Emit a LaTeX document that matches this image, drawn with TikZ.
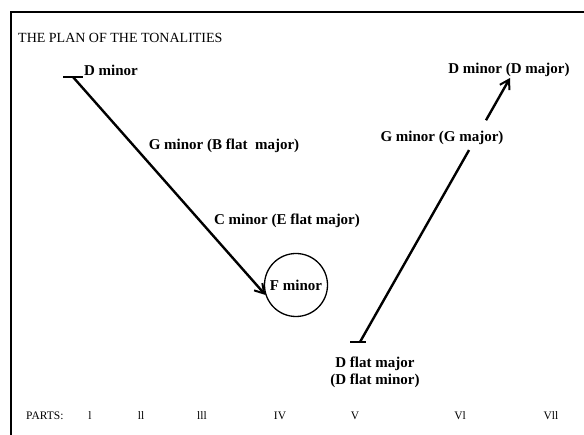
\documentclass[tikz,border=0pt]{standalone}
\usepackage{fontspec}
\setmainfont{Liberation Serif}
\usetikzlibrary{arrows.meta,calc}

\begin{document}
\begin{tikzpicture}[x=1pt, y=-1pt,
  etiq/.style={font=\fontsize{15}{17}\selectfont\bfseries, inner sep=0pt},
  texte/.style={font=\fontsize{11.5}{14}\selectfont, inner sep=0pt},
  trait/.style={line width=2.4pt},
  fleche/.style={trait, -{Straight Barb[length=9pt,width=11pt,line width=2pt]}}]
\useasboundingbox (0,0) rectangle (584,435);
\draw[line width=2.6pt] (11,435) -- (11,12) -- (584,12);
\node[texte, font=\fontsize{14}{16}\selectfont, anchor=west] (titre) at (18,38) {THE PLAN OF THE TONALITIES};
% tonalites
\node[etiq] (dmin) at (111,70) {D minor};
\node[etiq] (gmin) at (224,146) {G minor (B flat\ \ major)};
\node[etiq] (cmin) at (287,221) {C minor (E flat major)};
\node[etiq, draw, circle, line width=1.3pt, minimum size=63pt] (fmin) at (296,285) {F minor};
\node[etiq, align=center] (dflat) at (375,372) {D flat major\\(D flat minor)};
\node[etiq] (gmaj) at (442,138) {G minor (G major)};
\node[etiq] (dmaj) at (509,70) {D minor (D major)};
% traits
\coordinate (debut1) at (73,77);
\coordinate (barre1g) at (63,77);
\coordinate (barre1d) at (83,77);
\coordinate (debut2) at (360,342);
\coordinate (barre2g) at (350,342);
\coordinate (barre2d) at (366,342);
\coordinate (fin2) at (510,78);
\coordinate (coupe2a) at ($(debut2)!0.727!(fin2)$);
\coordinate (coupe2b) at ($(debut2)!0.84!(fin2)$);
\draw[trait] (barre1g) -- (barre1d);
\draw[fleche] (debut1) -- (fmin.198);
\draw[trait] (barre2g) -- (barre2d);
\draw[trait] (debut2) -- (coupe2a);
\draw[fleche] (coupe2b) -- (fin2);
% parties
\node[texte, anchor=west] (parts) at (26,416) {PARTS:};
\foreach \num/\x in {l/90, ll/141, lll/202, IV/280, V/355, Vl/460, Vll/551}
  \node[texte] (p-\num) at (\x,416) {\num};
\end{tikzpicture}
\end{document}
